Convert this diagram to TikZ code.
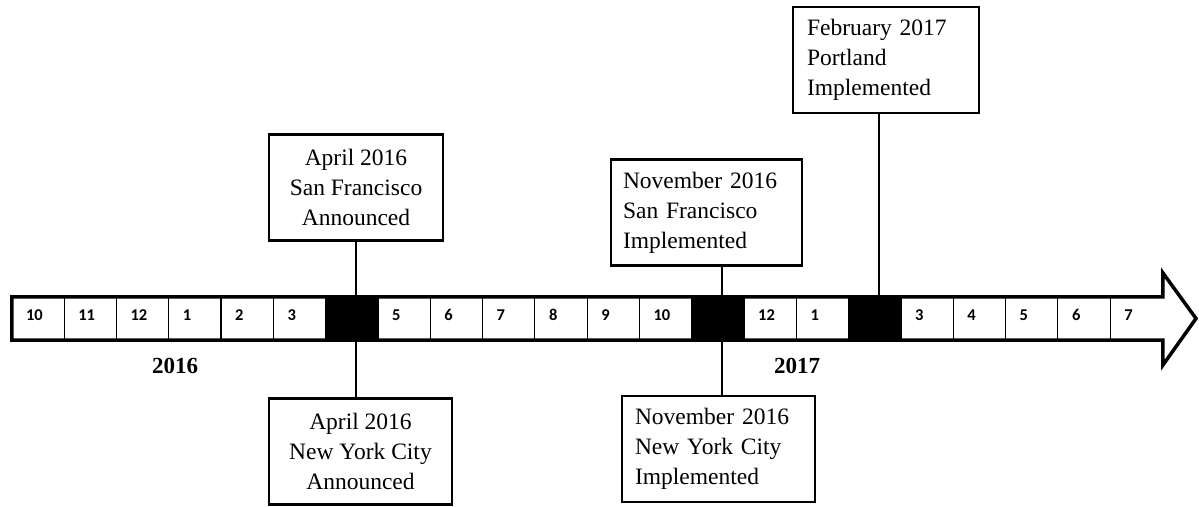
\documentclass[tikz,border=0pt]{standalone}
\usepackage{fontspec}
\setmainfont{Liberation Serif}
\newfontfamily\cellfont{Carlito}
\begin{document}
\begin{tikzpicture}[x=1pt, y=-1pt, line join=miter,
  evbox/.style={draw, line width=2.5pt, font=\fontsize{23.5}{30}\selectfont, minimum height=106pt, inner sep=0pt},
  cellbox/.style={minimum width=52.3pt, minimum height=43pt, inner sep=0pt},
  month/.style={font=\cellfont\bfseries\fontsize{16.5}{16.5}\selectfont, inner sep=0pt, anchor=west},
  year/.style={font=\bfseries\fontsize{23}{23}\selectfont, inner sep=0pt},
  tie/.style={line width=2pt}]
\useasboundingbox (0,0) rectangle (1199,506);
% event boxes
\node[evbox, align=center, minimum width=174pt] (sfann) at (356,187.5) {April 2016\\San Francisco\\Announced};
\node[evbox, align=center, minimum width=183pt] (nyann) at (360.5,451.5) {April 2016\\New York City\\Announced};
\node[evbox, align=left, text width=167pt, inner xsep=12pt] (sfimp) at (706.5,212.5) {November 2016\\San Francisco\\Implemented};
\node[evbox, align=left, text width=167pt, inner xsep=13pt] (nyimp) at (718.5,449) {November 2016\\New York City\\Implemented};
\node[evbox, align=left, text width=158pt, inner xsep=14pt] (pdximp) at (886,60) {February 2017\\Portland\\Implemented};
\coordinate (nov) at (722,297);
\coordinate (feb) at (879,297);
\draw[tie] (sfann.south) -- (sfann.south |- nyann.north);
\draw[tie] (nov |- sfimp.south) -- (nov |- nyimp.north);
\draw[tie] (feb |- pdximp.south) -- (feb);
% month cells
\foreach \m [count=\i from 0] in {10,11,12,1,2,3,{},5,6,7,8,9,10,{},12,1,{},3,4,5,6,7}{
  \node[cellbox] (c\i) at ({38.15+52.3*\i},318.5) {};
  \node[month] (n\i) at ([xshift=14pt,yshift=3.5pt]c\i.west) {\m};
}
\foreach \k in {6,13,16} \fill (c\k.north west) rectangle (c\k.south east);
\foreach \i in {1,...,21} \draw[line width=1.2pt] (c\i.north west) -- (c\i.south west);
\draw[line width=3.5pt] (c0.north west) -- (c21.north east) -- ++(0,-24) -- (1196,318.5)
  -- ([yshift=-25pt]c21.south east) -- (c21.south east) -- (c0.south west) -- cycle;
\node[year] (y16) at (175,366) {2016};
\node[year] (y17) at (797,366) {2017};
\end{tikzpicture}
\end{document}
